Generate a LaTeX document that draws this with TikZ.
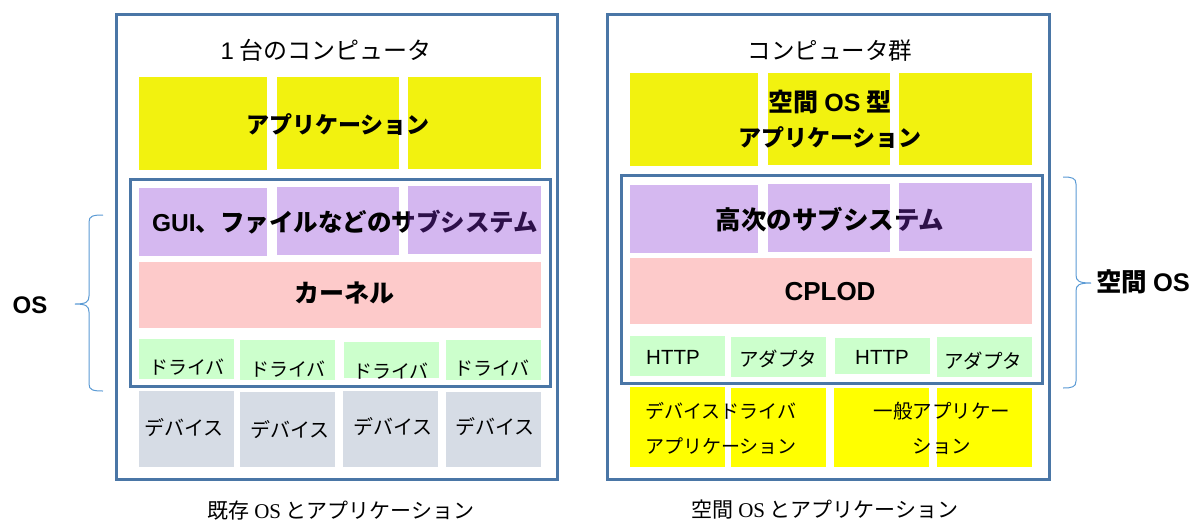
\documentclass[tikz,border=0pt]{standalone}
\usepackage{fontspec}
\setmainfont{Noto Sans CJK JP}
\newfontfamily\lat{Liberation Sans}
\newfontfamily\latser{Liberation Serif}
\usetikzlibrary{fit}
\definecolor{frame}{HTML}{4A76A6}
\definecolor{appY}{HTML}{F2F20F}
\definecolor{subP}{HTML}{D5B8F0}
\definecolor{subOver}{RGB}{133,49,212}
\definecolor{kerP}{HTML}{FDCACA}
\definecolor{drvG}{HTML}{CCFFCC}
\definecolor{devG}{HTML}{D6DCE5}
\definecolor{yelB}{HTML}{FFFF00}
\definecolor{brc}{HTML}{5B9BD5}
\newcommand\fs[1]{\fontsize{#1}{35}\selectfont}
\tikzset{
  frm/.style={draw=frame, line width=3pt, inner sep=0pt, outer sep=0pt},
  blk/.style={inner sep=0pt, outer sep=0pt, draw=none, fill=#1},
  ovl/.style={inner sep=0pt, outer sep=0pt, draw=none, fill=subOver, fill opacity=0.345},
  big/.style={inner sep=0pt, align=center, font=\fs{23}\bfseries},
  ttl/.style={inner sep=0pt, font=\fs{24}},
  sml/.style={inner sep=0pt, align=center, font=\fs{19}},
  captext/.style={inner sep=0pt, font=\fs{21}},
  side/.style={inner sep=0pt, font=\fs{24}\bfseries},
  brace/.style={draw=brc, line width=1pt},
}
\begin{document}
\begin{tikzpicture}[x=1pt,y=-1pt]
\useasboundingbox[fill=white] (0,0) rectangle (1197,523);

% ---------- left panel ----------
\node[frm, fit={(116,14) (557,479)}] (lout) {};
\node[frm, fit={(130,179) (550,386)}] (lin) {};
\node[ttl] (lttl) at (326,50) {{\lat 1} 台のコンピュータ};

\node[blk=appY, fit={(139,77) (267,170)}] (la1) {};
\node[blk=appY, fit={(277,77) (399,169)}] (la2) {};
\node[blk=appY, fit={(408,77) (541,169)}] (la3) {};
\node[big] (lapp) at (338,125) {アプリケーション};

\node[blk=subP, fit={(139,188) (267,256)}] (ls1) {};
\node[blk=subP, fit={(277,187) (399,255)}] (ls2) {};
\node[big, font=\fs{24.5}\bfseries] (lsub) at (345,222) {{\lat GUI}、ファイルなどのサブシステム};
\node[ovl, fit={(408,186) (541,254)}] (ls3) {};

\node[blk=kerP, fit={(139,262) (541,328)}] (lk) {};
\node[big, font=\fs{25}\bfseries] (lker) at (344,293) {カーネル};

\node[blk=drvG, fit={(139,339) (234,379)}] (ld1) {};
\node[blk=drvG, fit={(240,340) (335,380)}] (ld2) {};
\node[blk=drvG, fit={(344,342) (439,378)}] (ld3) {};
\node[blk=drvG, fit={(446,340) (541,380)}] (ld4) {};
\node[sml] (ldt1) at (187,367) {ドライバ};
\node[sml] (ldt2) at (288,369) {ドライバ};
\node[sml] (ldt3) at (391,371) {ドライバ};
\node[sml] (ldt4) at (492,368) {ドライバ};

\node[blk=devG, fit={(139,391) (234,467)}] (lv1) {};
\node[blk=devG, fit={(240,392) (335,467)}] (lv2) {};
\node[blk=devG, fit={(343,391) (438,467)}] (lv3) {};
\node[blk=devG, fit={(446,392) (541,467)}] (lv4) {};
\node[sml, font=\fs{20}] (lvt1) at (184,428) {デバイス};
\node[sml, font=\fs{20}] (lvt2) at (290,430) {デバイス};
\node[sml, font=\fs{20}] (lvt3) at (393,427) {デバイス};
\node[sml, font=\fs{20}] (lvt4) at (495,427) {デバイス};

\node[captext] (lcap) at (341,511) {既存 {\latser OS} とアプリケーション};

% left brace
\node[side] (los) at (30,305) {{\lat OS}};
\coordinate (lbt) at (103,215);
\coordinate (lbb) at (103,391);
\coordinate (lbp) at (75,304);
\draw[brace] (lbt) .. controls (93,215) and (89,216) .. (89,222) -- (89,296)
  .. controls (89,302) and (86,304) .. (lbp)
  .. controls (86,304) and (89,306) .. (89,312) -- (89,384)
  .. controls (89,390) and (93,391) .. (lbb);

% ---------- right panel ----------
\node[frm, fit={(607,14) (1049,479)}] (rout) {};
\node[frm, fit={(621,175) (1042,383)}] (rin) {};
\node[ttl, font=\fs{23.5}] (rttl) at (830,51) {コンピュータ群};

\node[blk=appY, fit={(630,73) (758,166)}] (ra1) {};
\node[blk=appY, fit={(768,73) (890,165)}] (ra2) {};
\node[blk=appY, fit={(899,73) (1032,165)}] (ra3) {};
\node[big] (rapp) at (830,119) {{\fs{25}空間 {\lat OS} 型}\\アプリケーション};

\node[blk=subP, fit={(630,185) (758,253)}] (rs1) {};
\node[blk=subP, fit={(768,184) (890,252)}] (rs2) {};
\node[big, font=\fs{25.5}\bfseries] (rsub) at (830,220) {高次のサブシステム};
\node[ovl, fit={(899,183) (1032,251)}] (rs3) {};

\node[blk=kerP, fit={(630,258) (1032,324)}] (rk) {};
\node[big, font=\fs{26}\bfseries] (rker) at (830,292) {{\lat CPLOD}};

\node[blk=drvG, fit={(630,336) (725,376)}] (rd1) {};
\node[blk=drvG, fit={(731,337) (826,377)}] (rd2) {};
\node[blk=drvG, fit={(835,338) (930,374)}] (rd3) {};
\node[blk=drvG, fit={(937,337) (1032,377)}] (rd4) {};
\node[sml, font=\fs{20.5}] (rdt1) at (673,357) {\lat HTTP};
\node[sml, font=\fs{19.5}] (rdt2) at (778,359) {アダプタ};
\node[sml, font=\fs{20.5}] (rdt3) at (882,357) {\lat HTTP};
\node[sml, font=\fs{19.5}] (rdt4) at (983,361) {アダプタ};

\node[blk=yelB, fit={(630,387) (725,467)}] (rv1) {};
\node[blk=yelB, fit={(731,388) (826,467)}] (rv2) {};
\node[blk=yelB, fit={(834,388) (929,467)}] (rv3) {};
\node[blk=yelB, fit={(937,388) (1032,467)}] (rv4) {};
\node[sml] (rvt1) at (721,428) {デバイスドライバ\\アプリケーション};
\node[sml, font=\fs{19.5}] (rvt2) at (942,428) {一般アプリケー\\ション};

\node[captext] (rcap) at (825,510) {空間 {\latser OS} とアプリケーション};

% right brace
\node[side, font=\fs{25.5}\bfseries, anchor=west] (ros) at (1096,282) {空間 {\lat OS}};
\coordinate (rbt) at (1063,177);
\coordinate (rbb) at (1063,388);
\coordinate (rbp) at (1091,283);
\draw[brace] (rbt) .. controls (1072,177) and (1076,178) .. (1076,184) -- (1076,275)
  .. controls (1076,281) and (1079,283) .. (rbp)
  .. controls (1079,283) and (1076,285) .. (1076,291) -- (1076,381)
  .. controls (1076,387) and (1072,388) .. (rbb);
\end{tikzpicture}
\end{document}
